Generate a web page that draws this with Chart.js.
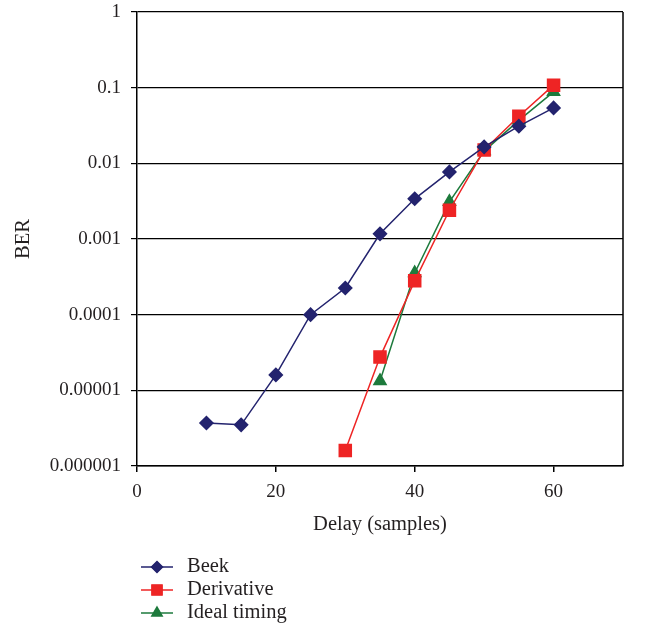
<!DOCTYPE html>
<html>
<head>
<meta charset="utf-8">
<script src="https://cdn.jsdelivr.net/npm/chart.js@4.4.0/dist/chart.umd.min.js"></script>
<style>
html,body{margin:0;padding:0;background:#fff;}
#wrap{width:648px;height:630px;position:relative;}
</style>
</head>
<body>
<div id="wrap"><canvas id="c" width="648" height="630"></canvas></div>
<script>
const delays = [10, 15, 20, 25, 30, 35, 40, 45, 50, 55, 60];
const beek = [3.7e-6, 3.5e-6, 1.6e-5, 1.0e-4, 2.25e-4, 1.17e-3, 3.4e-3, 7.7e-3, 0.0165, 0.031, 0.054];
const derivativeX = [30, 35, 40, 45, 50, 55, 60];
const derivative = [1.6e-6, 2.75e-5, 2.8e-4, 2.4e-3, 0.015, 0.042, 0.108];
const idealX = [35, 40, 45, 50, 55, 60];
const ideal = [1.33e-5, 3.55e-4, 3.1e-3, 0.0145, 0.037, 0.088];
const yTickValues = [1e-6, 1e-5, 1e-4, 1e-3, 1e-2, 1e-1, 1];
const yTickLabels = ["0.000001", "0.00001", "0.0001", "0.001", "0.01", "0.1", "1"];
const xTickValues = [0, 20, 40, 60];
const seriesNames = ["Beek", "Derivative", "Ideal timing"];

const FONT = "'Liberation Serif', 'DejaVu Serif', serif";
const TEXT = '#231f20';

const toPts = (xs, ys) => xs.map((x, i) => ({x: x, y: ys[i]}));

const legendPlugin = {
  id: 'vlegend',
  afterDraw(chart) {
    const ctx = chart.ctx;
    const x0 = 141, y0 = 567, dy = 23;
    ctx.save();
    chart.data.datasets.forEach((ds, i) => {
      const y = y0 + i * dy;
      ctx.strokeStyle = ds.borderColor;
      ctx.lineWidth = 1.5;
      ctx.beginPath(); ctx.moveTo(x0, y); ctx.lineTo(x0 + 32, y); ctx.stroke();
      Chart.helpers.drawPoint(ctx, {pointStyle: ds.pointStyle, radius: ds.pointRadius * 0.85, borderWidth: 1}, x0 + 16, y);
      ctx.fillStyle = ds.backgroundColor;
      ctx.fill();
      ctx.fillStyle = TEXT;
      ctx.font = "20.5px " + FONT;
      ctx.textBaseline = 'middle';
      ctx.textAlign = 'left';
      ctx.fillText(ds.label, x0 + 46, y);
    });
    const a = chart.chartArea;
    ctx.strokeStyle = '#000';
    ctx.lineWidth = 1.5;
    ctx.beginPath(); ctx.moveTo(a.right, a.top); ctx.lineTo(a.right, a.bottom); ctx.stroke();
    ctx.restore();
  }
};

new Chart(document.getElementById('c'), {
  type: 'line',
  data: {
    datasets: [
      {label: seriesNames[0], data: toPts(delays, beek), borderColor: '#23236e', backgroundColor: '#23236e',
       pointStyle: 'rectRot', pointRadius: 6.5, pointHoverRadius: 6.5, borderWidth: 1.5, tension: 0},
      {label: seriesNames[1], data: toPts(derivativeX, derivative), borderColor: '#ee2424', backgroundColor: '#ee2424',
       pointStyle: 'rect', pointRadius: 8.5, pointHoverRadius: 8.5, borderWidth: 1.5, tension: 0},
      {label: seriesNames[2], data: toPts(idealX, ideal), borderColor: '#1d7a3c', backgroundColor: '#1d7a3c',
       pointStyle: 'triangle', pointRadius: 7, pointHoverRadius: 7, borderWidth: 1.5, tension: 0}
    ]
  },
  options: {
    responsive: false,
    animation: false,
    events: [],
    layout: {padding: {left: 0, right: 25, top: 12, bottom: 89}},
    plugins: {legend: {display: false}, tooltip: {enabled: false}},
    scales: {
      x: {
        type: 'linear', min: 0, max: 70,
        afterBuildTicks: s => { s.ticks = xTickValues.map(v => ({value: v})); },
        afterFit: s => { s.height = 75; s.paddingLeft = 0; s.paddingRight = 0; },
        grid: {drawOnChartArea: false, drawTicks: true, tickLength: 6, color: '#000', lineWidth: 1.5},
        border: {display: true, color: '#000', width: 1.5},
        ticks: {color: TEXT, font: {family: FONT, size: 19}, padding: 9, maxRotation: 0},
        title: {display: true, text: 'Delay (samples)', color: TEXT, font: {family: FONT, size: 20.5}, padding: {top: 0}}
      },
      y: {
        type: 'logarithmic', min: 1e-6, max: 1,
        afterBuildTicks: s => { s.ticks = yTickValues.map(v => ({value: v})); },
        afterFit: s => { s.width = 137; s.paddingTop = 0; s.paddingBottom = 0; },
        grid: {drawOnChartArea: true, drawTicks: true, tickLength: 6, color: '#000', lineWidth: 1.2},
        border: {display: true, color: '#000', width: 1.5},
        ticks: {color: TEXT, font: {family: FONT, size: 19}, padding: 10,
                callback: (v, i) => yTickLabels[i]},
        title: {display: true, text: 'BER', color: TEXT, font: {family: FONT, size: 20.5}, padding: {top: 11, bottom: 0}}
      }
    }
  },
  plugins: [legendPlugin]
});
</script>
</body>
</html>
